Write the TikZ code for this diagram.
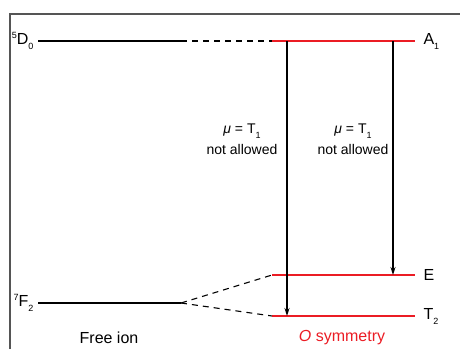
\documentclass[tikz,border=0pt]{standalone}
\usepackage{fontspec}
\setmainfont{Liberation Sans}
\usetikzlibrary{positioning,arrows.meta}
\definecolor{symred}{RGB}{235,28,36}
\definecolor{framegray}{RGB}{85,85,85}
\newcommand{\term}[3]{{\fontsize{9}{9}\selectfont\raisebox{6pt}{#1}}#2{\fontsize{9}{9}\selectfont\raisebox{-5pt}{#3}}}

\begin{document}
\begin{tikzpicture}[x=1pt, y=-1pt, font=\fontsize{16}{18}\selectfont,
  level/.style={line width=1.1pt},
  split/.style={line width=1.1pt, dash pattern=on 6pt off 5pt},
  trans/.style={-{Stealth[length=8pt,width=5pt]}, line width=1.1pt},
  rule/.style={align=center, font=\fontsize{14}{16}\selectfont}]
\useasboundingbox (0,0) rectangle (460,349);
\draw[framegray, line width=2pt] (10,349) -- (10,14) -- (460,14);

% free ion levels
\coordinate (d0l) at (38,41);
\coordinate (d0r) at (181,41);
\coordinate (f2l) at (38,303);
\coordinate (f2r) at (181,303);
% O symmetry levels
\coordinate (a1l) at (272,41);
\coordinate (a1r) at (415,41);
\coordinate (el) at (272,275);
\coordinate (er) at (415,275);
\coordinate (t2l) at (272,316);
\coordinate (t2r) at (415,316);
% transition ends
\coordinate (up1) at (287,41);
\coordinate (dn1) at (287,316);
\coordinate (up2) at (393,41);
\coordinate (dn2) at (393,275);

\draw[level] (d0l) -- (d0r);
\draw[level] (f2l) -- (f2r);
\draw[level, symred] (a1l) -- (a1r);
\draw[level, symred] (el) -- (er);
\draw[level, symred] (t2l) -- (t2r);

\draw[split] (d0r) -- (a1l);
\draw[split] (f2r) -- (el);
\draw[split] (f2r) -- (t2l);

\draw[trans] (up1) -- (dn1);
\draw[trans] (up2) -- (dn2);

\node[left=1pt of d0l] (d0) {\term{5}{D}{0}};
\node[left=1pt of f2l] (f2) {\term{7}{F}{2}};
\node[right=5pt of a1r] (a1) {A\term{}{}{1}};
\node[right=5pt of er] (e) {E};
\node[right=5pt of t2r] (t2) {T\term{}{}{2}};

\node[rule] (rule1) at (242,139) {{\itshape μ} = T\term{}{}{1}\\[5pt]not allowed};
\node[rule] (rule2) at (353,139) {{\itshape μ} = T\term{}{}{1}\\[5pt]not allowed};

\node (free) at (109,338) {Free ion};
\node[symred] (osym) at (342,338) {{\itshape O} symmetry};
\end{tikzpicture}
\end{document}
